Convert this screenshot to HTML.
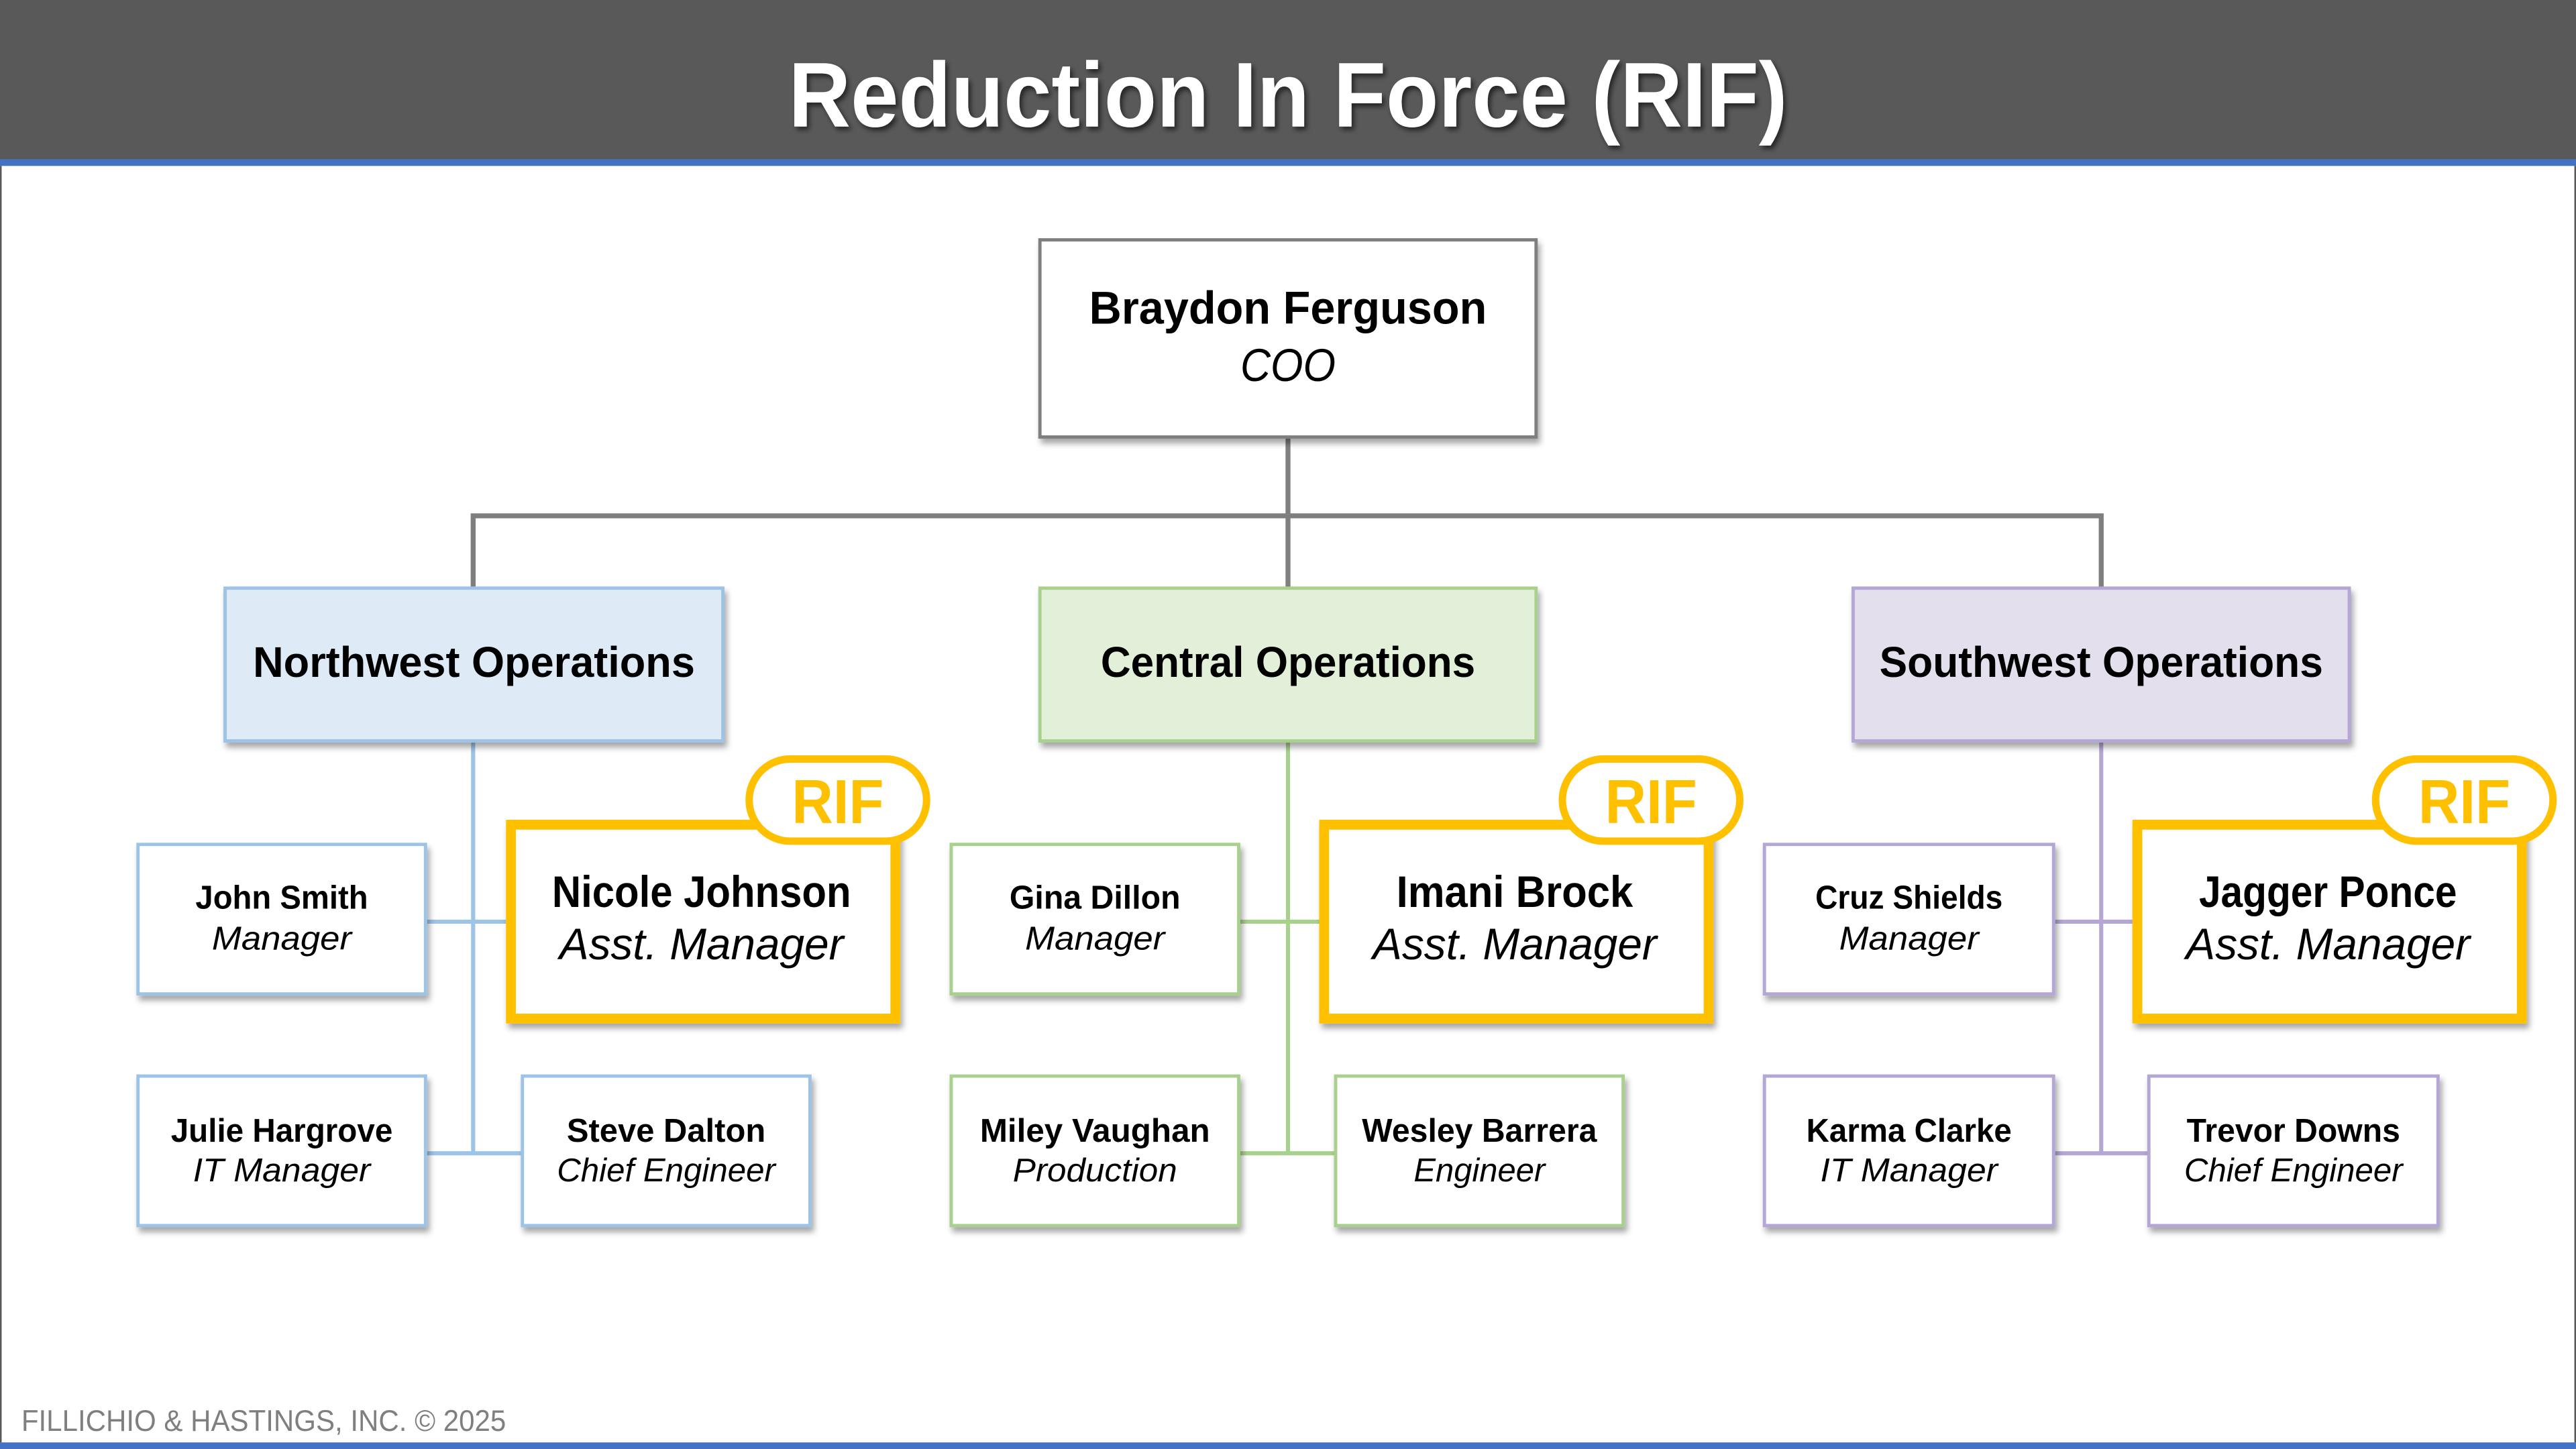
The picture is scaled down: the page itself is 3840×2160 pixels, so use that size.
<!DOCTYPE html>
<html><head><meta charset="utf-8"><style>html,body{margin:0;padding:0;background:#fff}svg{display:block}</style></head>
<body>
<svg width="3840" height="2160" viewBox="0 0 1568 882" xmlns="http://www.w3.org/2000/svg" font-family="'Liberation Sans', sans-serif">
<defs>
<filter id="sh" x="-10%" y="-10%" width="130%" height="140%"><feDropShadow dx="1.5" dy="3" stdDeviation="1.8" flood-color="#000" flood-opacity="0.35"/></filter>
<filter id="ts" x="-5%" y="-20%" width="110%" height="150%"><feDropShadow dx="1.5" dy="2" stdDeviation="1.5" flood-color="#000" flood-opacity="0.6"/></filter>
</defs>
<rect x="0" y="0" width="1568" height="882" fill="#fff"/>
<rect x="0" y="0" width="1568" height="97" fill="#595959"/>
<rect x="0" y="97" width="1568" height="4" fill="#4472C4"/>
<rect x="0" y="878" width="1568" height="4" fill="#4472C4"/>
<rect x="0" y="101" width="1" height="777" fill="#595959"/>
<rect x="1567" y="101" width="1" height="777" fill="#595959"/>
<text x="784" y="77" text-anchor="middle" font-size="56" font-weight="bold" fill="#fff" filter="url(#ts)" textLength="608" lengthAdjust="spacingAndGlyphs">Reduction In Force (RIF)</text>

<!-- top connectors -->
<g stroke="#7F7F7F" stroke-width="3" fill="none">
<path d="M784 266 V358 M288 358 V314 H1279 V358"/>
</g>
<rect x="633" y="146" width="302" height="120" fill="#fff" stroke="#7F7F7F" stroke-width="2" filter="url(#sh)"/>
<text x="784" y="197" text-anchor="middle" font-size="28" font-weight="bold" textLength="242" lengthAdjust="spacingAndGlyphs">Braydon Ferguson</text>
<text x="784" y="232" text-anchor="middle" font-size="28" font-style="italic" textLength="58" lengthAdjust="spacingAndGlyphs">COO</text>

<!-- group connectors -->
<g stroke-width="2.5" fill="none">
<path stroke="#9DC3E6" d="M288 451 V702 M259 561 H308 M259 702 H318"/>
<path stroke="#A9D18E" d="M784 451 V702 M754 561 H803 M754 702 H813"/>
<path stroke="#B4A7D6" d="M1279 451 V702 M1250 561 H1298 M1250 702 H1308"/>
</g>

<!-- divisions -->
<rect x="137" y="358" width="303" height="93" fill="#DEEBF7" stroke="#9DC3E6" stroke-width="2" filter="url(#sh)"/>
<text x="288.5" y="412" text-anchor="middle" font-size="26" font-weight="bold" textLength="269" lengthAdjust="spacingAndGlyphs">Northwest Operations</text>
<rect x="633" y="358" width="302" height="93" fill="#E2F0D9" stroke="#A9D18E" stroke-width="2" filter="url(#sh)"/>
<text x="784" y="412" text-anchor="middle" font-size="26" font-weight="bold" textLength="228" lengthAdjust="spacingAndGlyphs">Central Operations</text>
<rect x="1128" y="358" width="302" height="93" fill="#E4DFEC" stroke="#B4A7D6" stroke-width="2" filter="url(#sh)"/>
<text x="1279" y="412" text-anchor="middle" font-size="26" font-weight="bold" textLength="270" lengthAdjust="spacingAndGlyphs">Southwest Operations</text>

<!-- small boxes -->
<g font-size="20" text-anchor="middle">
<g fill="#fff" stroke="#9DC3E6" stroke-width="2" filter="url(#sh)">
<rect x="84" y="514" width="175" height="91"/><rect x="84" y="655" width="175" height="91"/><rect x="318" y="655" width="175" height="91"/>
</g>
<g fill="#fff" stroke="#A9D18E" stroke-width="2" filter="url(#sh)">
<rect x="579" y="514" width="175" height="91"/><rect x="579" y="655" width="175" height="91"/><rect x="813" y="655" width="175" height="91"/>
</g>
<g fill="#fff" stroke="#B4A7D6" stroke-width="2" filter="url(#sh)">
<rect x="1074" y="514" width="176" height="91"/><rect x="1074" y="655" width="176" height="91"/><rect x="1308" y="655" width="176" height="91"/>
</g>
<g font-weight="bold">
<text x="171.5" y="553" textLength="105" lengthAdjust="spacingAndGlyphs">John Smith</text>
<text x="171.5" y="695" textLength="135" lengthAdjust="spacingAndGlyphs">Julie Hargrove</text>
<text x="405.5" y="695" textLength="121" lengthAdjust="spacingAndGlyphs">Steve Dalton</text>
<text x="666.5" y="553" textLength="104" lengthAdjust="spacingAndGlyphs">Gina Dillon</text>
<text x="666.5" y="695" textLength="140" lengthAdjust="spacingAndGlyphs">Miley Vaughan</text>
<text x="900.5" y="695" textLength="143" lengthAdjust="spacingAndGlyphs">Wesley Barrera</text>
<text x="1162" y="553" textLength="114" lengthAdjust="spacingAndGlyphs">Cruz Shields</text>
<text x="1162" y="695" textLength="125" lengthAdjust="spacingAndGlyphs">Karma Clarke</text>
<text x="1396" y="695" textLength="130" lengthAdjust="spacingAndGlyphs">Trevor Downs</text>
</g>
<g font-style="italic">
<text x="171.5" y="578" textLength="85" lengthAdjust="spacingAndGlyphs">Manager</text>
<text x="171.5" y="719" textLength="108" lengthAdjust="spacingAndGlyphs">IT Manager</text>
<text x="405.5" y="719" textLength="133" lengthAdjust="spacingAndGlyphs">Chief Engineer</text>
<text x="666.5" y="578" textLength="85" lengthAdjust="spacingAndGlyphs">Manager</text>
<text x="666.5" y="719" textLength="100" lengthAdjust="spacingAndGlyphs">Production</text>
<text x="900.5" y="719" textLength="80" lengthAdjust="spacingAndGlyphs">Engineer</text>
<text x="1162" y="578" textLength="85" lengthAdjust="spacingAndGlyphs">Manager</text>
<text x="1162" y="719" textLength="108" lengthAdjust="spacingAndGlyphs">IT Manager</text>
<text x="1396" y="719" textLength="133" lengthAdjust="spacingAndGlyphs">Chief Engineer</text>
</g>
</g>

<!-- RIF boxes -->
<g text-anchor="middle">
<g fill="#fff" stroke="#FFC000" stroke-width="6" filter="url(#sh)">
<rect x="311" y="502" width="234" height="118"/>
<rect x="806" y="502" width="234" height="118"/>
<rect x="1301" y="502" width="234" height="118"/>
</g>
<g fill="#fff" stroke="#FFC000" stroke-width="4.5">
<rect x="456" y="462" width="108" height="50" rx="25"/>
<rect x="951" y="462" width="108" height="50" rx="25"/>
<rect x="1446" y="462" width="108" height="50" rx="25"/>
</g>
<g font-size="38" font-weight="bold" fill="#FFC000">
<text x="510" y="501" textLength="56" lengthAdjust="spacingAndGlyphs">RIF</text>
<text x="1005" y="501" textLength="56" lengthAdjust="spacingAndGlyphs">RIF</text>
<text x="1500" y="501" textLength="56" lengthAdjust="spacingAndGlyphs">RIF</text>
</g>
<g font-size="27" font-weight="bold">
<text x="427" y="552" textLength="182" lengthAdjust="spacingAndGlyphs">Nicole Johnson</text>
<text x="922" y="552" textLength="144" lengthAdjust="spacingAndGlyphs">Imani Brock</text>
<text x="1417" y="552" textLength="157" lengthAdjust="spacingAndGlyphs">Jagger Ponce</text>
</g>
<g font-size="27" font-style="italic">
<text x="427" y="584" textLength="173" lengthAdjust="spacingAndGlyphs">Asst. Manager</text>
<text x="922" y="584" textLength="173" lengthAdjust="spacingAndGlyphs">Asst. Manager</text>
<text x="1417" y="584" textLength="173" lengthAdjust="spacingAndGlyphs">Asst. Manager</text>
</g>
</g>

<text x="13" y="871" font-size="18" fill="#7F7F7F" textLength="295" lengthAdjust="spacingAndGlyphs">FILLICHIO &amp; HASTINGS, INC. © 2025</text>
</svg>
</body></html>
